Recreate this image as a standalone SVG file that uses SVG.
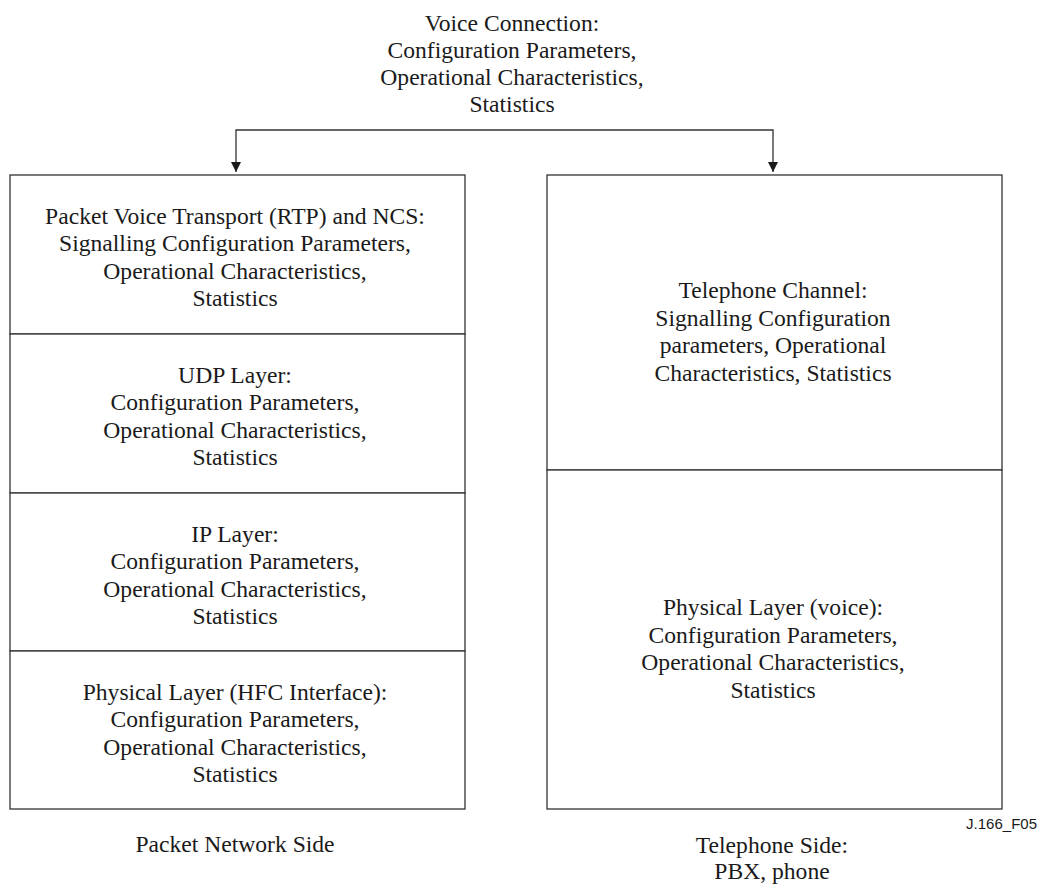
<svg xmlns="http://www.w3.org/2000/svg" width="1041" height="885" viewBox="0 0 1041 885">
<style>
text{font-family:"Liberation Serif","Times New Roman",serif;font-size:23.6px;fill:#1a1a1a;text-anchor:middle}
.box{fill:#fff;stroke:#333;stroke-width:1.3}
.ln{stroke:#333;stroke-width:1.3;fill:none}
.tag{font-family:"Liberation Sans",Arial,sans-serif;font-size:15px;text-anchor:end}
</style>
<defs>
<marker id="ah" viewBox="0 0 10 10" refX="10" refY="5" markerWidth="11" markerHeight="10" markerUnits="userSpaceOnUse" orient="auto">
<path d="M0,0L10,5L0,10z" fill="#1a1a1a"/>
</marker>
</defs>
<rect width="1041" height="885" fill="#fff"/>
<g id="title">
<text x="512" y="31">Voice Connection:</text>
<text x="512" y="58">Configuration Parameters,</text>
<text x="512" y="85">Operational Characteristics,</text>
<text x="512" y="112">Statistics</text>
</g>
<g id="connectors">
<path class="ln" d="M504,130H236V172" marker-end="url(#ah)"/>
<path class="ln" d="M504,130H773V172" marker-end="url(#ah)"/>
</g>
<g id="rtp">
<rect class="box" x="10" y="175" width="455" height="159"/>
<text x="235" y="224">Packet Voice Transport (RTP) and NCS:</text>
<text x="235" y="251">Signalling Configuration Parameters,</text>
<text x="235" y="279">Operational Characteristics,</text>
<text x="235" y="306">Statistics</text>
</g>
<g id="udp">
<rect class="box" x="10" y="334" width="455" height="159"/>
<text x="235" y="383">UDP Layer:</text>
<text x="235" y="410">Configuration Parameters,</text>
<text x="235" y="438">Operational Characteristics,</text>
<text x="235" y="465">Statistics</text>
</g>
<g id="ip">
<rect class="box" x="10" y="493" width="455" height="158"/>
<text x="235" y="542">IP Layer:</text>
<text x="235" y="569">Configuration Parameters,</text>
<text x="235" y="597">Operational Characteristics,</text>
<text x="235" y="624">Statistics</text>
</g>
<g id="phyhfc">
<rect class="box" x="10" y="651" width="455" height="158"/>
<text x="235" y="700">Physical Layer (HFC Interface):</text>
<text x="235" y="727">Configuration Parameters,</text>
<text x="235" y="755">Operational Characteristics,</text>
<text x="235" y="782">Statistics</text>
</g>
<g id="telchan">
<rect class="box" x="547" y="175" width="455" height="295"/>
<text x="773" y="298">Telephone Channel:</text>
<text x="773" y="326">Signalling Configuration</text>
<text x="773" y="353">parameters, Operational</text>
<text x="773" y="381">Characteristics, Statistics</text>
</g>
<g id="phyvoice">
<rect class="box" x="547" y="470" width="455" height="339"/>
<text x="773" y="615">Physical Layer (voice):</text>
<text x="773" y="643">Configuration Parameters,</text>
<text x="773" y="670">Operational Characteristics,</text>
<text x="773" y="698">Statistics</text>
</g>
<g id="labels">
<text x="235" y="852">Packet Network Side</text>
<text x="772" y="853">Telephone Side:</text>
<text x="772" y="879">PBX, phone</text>
<text class="tag" x="1037" y="829">J.166_F05</text>
</g>
</svg>
